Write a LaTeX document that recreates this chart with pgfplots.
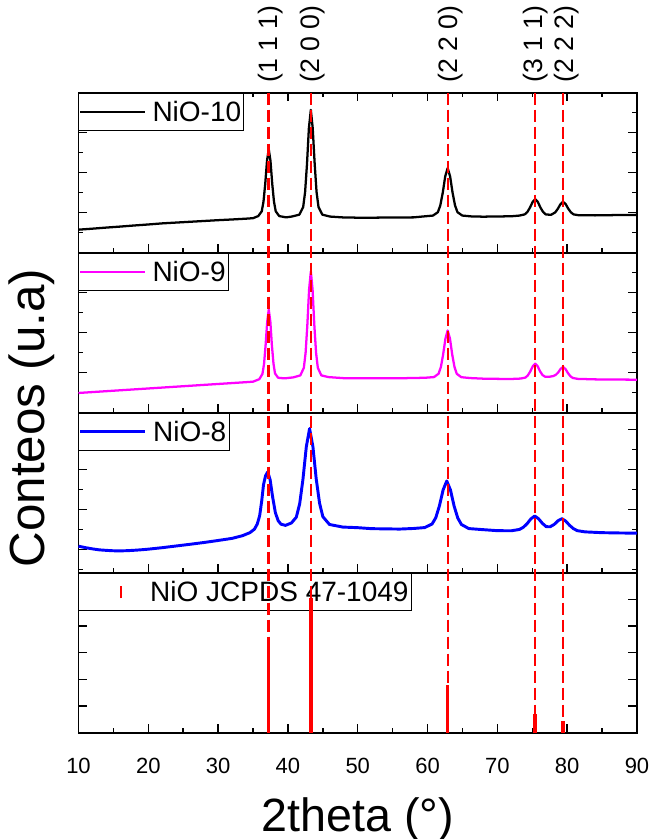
\documentclass[border=0pt]{standalone}
\usepackage{fontspec}
\setmainfont{Liberation Sans}
\usepackage{pgfplots}
\pgfplotsset{compat=1.18}

\definecolor{nimag}{RGB}{255,0,255}
\definecolor{niblue}{RGB}{0,0,255}
\definecolor{nired}{RGB}{255,0,0}

\pgfplotsset{
 panel/.style={
  scale only axis, width=418.875pt, height=120pt,
  xmin=10, xmax=90, ymin=0, ymax=160,
  xtick={10,20,...,90}, minor x tick num=1,
  yticklabels={},
  tick align=inside,
  ytick pos=both,
  axis line style={line width=1.3pt},
  every tick/.style={black, line width=1.1pt},
  major tick length=6.5pt, minor tick length=3.5pt,
  /pgf/number format/assume math mode=true,
  legend cell align=left,
  legend style={at={(0,1)}, anchor=north west, draw=black, line width=0.6pt,
    fill=white, inner xsep=0pt, inner ysep=3.8pt,
    font=\fontsize{21}{25}\selectfont,
    /tikz/every odd column/.append style={column sep=2.75pt}},
  legend image code/.code={\draw[#1] (0pt,0pt) -- (48.75pt,0pt);},
  clip=false,
 },
}

\begin{document}
\begin{tikzpicture}
% ---------------- NiO-10 ----------------
\begin{axis}[panel, name=p1, at={(0,0)}, anchor=north west,
  xticklabels={}, xtick pos=both, ytick={0,40,...,160}, minor y tick num=1]
\addplot[black, line width=1.7pt, line join=round] coordinates {
(10,23.0) (12,24.0) (14,25.1) (16,26.1) (18,27.2) (20,28.2) (22,29.3) (24,30.1)
(26,30.9) (28,31.7) (30,32.5) (32,33.2) (34,34.0) (35,34.5) (35.75,36.6) (36.25,41.4)
(36.5,51.1) (36.75,69.0) (37.0,91.8) (37.25,103.5) (37.5,91.8) (37.75,69.0) (38.0,51.1)
(38.25,41.4) (38.75,36.6) (39.75,35.3) (40.53,36.1) (41.63,38.0) (42.18,45.6) (42.46,60.7)
(42.73,88.8) (43.0,124.4) (43.28,142.8) (43.55,124.4) (43.83,88.8) (44.1,60.7) (44.38,45.6)
(44.93,38.0) (46.03,36.1) (48,35.2) (50,35.0) (52,35.0) (54,35.1) (56,35.2) (58,35.3)
(59.38,36.2) (60.78,37.1) (61.48,40.5) (61.83,47.4) (62.18,60.1) (62.53,76.3) (62.88,84.6)
(63.23,76.3) (63.58,60.1) (63.93,47.4) (64.28,40.5) (64.98,37.1) (66.38,36.2) (68,36.0)
(70,36.2) (72,36.4) (73.17,37.1) (73.92,38.3) (74.3,40.7) (74.67,45.1) (75.05,50.7)
(75.42,53.6) (75.8,50.7) (76.17,45.1) (76.55,40.7) (76.92,38.3) (77.67,37.8) (78.29,40.3)
(78.66,43.9) (79.04,48.5) (79.41,50.9) (79.79,48.5) (80.16,43.9) (80.54,40.3) (80.91,38.3)
(81.66,37.4) (84,37.3) (87,37.6) (90,37.8)};
\addlegendentry{NiO-10}
\node[rotate=90, anchor=west, inner sep=0pt, font=\fontsize{20}{22}\selectfont] at (axis cs:37.5,170) {(1 1 1)};
\node[rotate=90, anchor=west, inner sep=0pt, font=\fontsize{20}{22}\selectfont] at (axis cs:43.55,170) {(2 0 0)};
\node[rotate=90, anchor=west, inner sep=0pt, font=\fontsize{20}{22}\selectfont] at (axis cs:63.3,170) {(2 2 0)};
\node[rotate=90, anchor=west, inner sep=0pt, font=\fontsize{20}{22}\selectfont] at (axis cs:75.5,170) {(3 1 1)};
\node[rotate=90, anchor=west, inner sep=0pt, font=\fontsize{20}{22}\selectfont] at (axis cs:79.95,170) {(2 2 2)};
\end{axis}
% ---------------- NiO-9 ----------------
\begin{axis}[panel, name=p2, at={(p1.south west)}, anchor=north west,
  xticklabels={}, xtick pos=bottom, ytick={0,40,...,160}, minor y tick num=1]
\addplot[nimag, line width=1.7pt, line join=round] coordinates {
(10,19.7) (12,20.6) (14,21.5) (16,22.4) (18,23.3) (20,24.2) (22,25.1) (24,26.0) (26,26.9)
(28,27.8) (30,28.7) (32,29.6) (34,30.5) (35,31.0) (35.9,33.5) (36.35,38.8) (36.58,48.8)
(36.8,67.4) (37.03,90.9) (37.25,103.1) (37.48,91.0) (37.7,67.6) (37.93,49.1) (38.15,39.2)
(38.6,34.9) (39.5,34.3) (40.78,35.3) (41.78,37.3) (42.28,44.9) (42.53,59.9) (42.78,87.7)
(43.03,123.0) (43.28,141.2) (43.53,123.0) (43.78,87.7) (44.03,59.9) (44.28,44.9) (44.78,37.3)
(45.78,35.6) (48,34.5) (52,34.5) (56,34.4) (59.63,34.9) (60.93,35.6) (61.58,39.0) (61.91,45.7)
(62.23,58.2) (62.56,74.0) (62.88,82.2) (63.21,74.0) (63.53,58.2) (63.86,45.6) (64.18,38.9)
(64.83,35.5) (66.13,34.6) (68,34.0) (70,33.8) (72,33.7) (73.32,34.1) (74.02,35.1) (74.37,37.3)
(74.72,41.3) (75.07,46.4) (75.42,49.0) (75.77,46.4) (76.12,41.3) (76.47,37.6) (76.82,36.0)
(77.52,36.0) (78.01,36.6) (78.36,37.8) (78.71,40.2) (79.06,43.8) (79.41,45.7) (79.76,43.6)
(80.11,39.6) (80.46,36.4) (80.81,34.7) (81.51,33.8) (84,33.3) (87,33.1) (90,33.0)};
\addlegendentry{NiO-9}
\end{axis}
% ---------------- NiO-8 ----------------
\begin{axis}[panel, name=p3, at={(p2.south west)}, anchor=north west,
  xticklabels={}, xtick pos=bottom, ytick={23.33,63.33,103.33,143.33},
  minor ytick={3.33,43.33,83.33,123.33}]
\addplot[niblue, line width=2.2pt, line join=round] coordinates {
(10,26.5) (11,25.0) (12,23.8) (13,22.8) (14,22.3) (15,21.9) (16,21.8) (17,22.0) (18,22.4)
(19,22.9) (20,23.5) (22,25.0) (24,26.7) (26,28.4) (28,30.2) (30,32.2) (32,34.3) (33.5,37.0)
(34.55,40.0) (35.2,43.5) (35.6,48.5) (35.95,57.0) (36.25,72.0) (36.5,88.0) (36.8,97.0)
(37.1,100.7) (37.45,93.0) (37.8,76.0) (38.2,60.0) (38.6,52.0) (39.0,48.5) (39.65,47.3)
(40.5,49.7) (41.2,55.5) (41.68,68.8)
(42.15,93.3) (42.63,125.8) (43.1,144.1) (43.58,125.9) (44.05,93.8) (44.53,69.5) (45.0,56.0)
(45.95,48.2) (47.85,45.6) (50,45.0) (52,44.0) (54,43.8) (56,43.6) (58,44.2) (59.6,45.1)
(60.65,48.7) (61.18,55.0) (61.7,66.9) (62.23,82.8) (62.75,91.7) (63.28,82.7) (63.8,66.7)
(64.33,54.6) (64.85,48.2) (65.9,44.1) (68,43.0) (70,42.0) (72,41.9) (73.15,43.2) (73.7,45.3)
(74.25,48.9) (74.8,53.8) (75.35,56.7) (75.9,53.9) (76.45,49.3) (77.0,46.0) (77.55,45.9)
(78.15,48.3) (78.7,52.0) (79.25,54.0) (79.8,51.5) (80.35,47.3) (80.9,44.0) (81.45,42.0)
(82.55,40.8) (85,40.0) (87.5,39.7) (90,39.5)};
\addlegendentry{NiO-8}
\end{axis}
% ---------------- JCPDS ----------------
\begin{axis}[panel, name=p4, at={(p3.south west)}, anchor=north west,
  xtick pos=bottom, xticklabels={10,20,30,40,50,60,70,80,90},
  xticklabel style={font=\fontsize{16.5}{18}\selectfont, yshift=-15.5pt},
  ytick={0,26.667,53.333,80,106.667,133.333,160}, minor y tick num=1,
  xlabel={2theta (°)},
  xlabel style={font=\fontsize{35}{40}\selectfont, at={(axis description cs:0.5,-0.54)}, anchor=center},
  ylabel={Conteos (u.a)},
  ylabel style={font=\fontsize{37}{40}\selectfont, at={(axis description cs:-0.0833,1.967)}, anchor=center}]
\addplot[ycomb, nired, line width=2.6pt,
  legend image code/.code={%
    \pgfpathmoveto{\pgfpoint{0pt}{0pt}}\pgfpathlineto{\pgfpoint{48.75pt}{0pt}}\pgfusepath{use as bounding box}%
    \pgfsetlinewidth{2pt}\pgfsetcolor{nired}%
    \pgfpathmoveto{\pgfpoint{31.5pt}{-4.8pt}}\pgfpathlineto{\pgfpoint{31.5pt}{4.8pt}}\pgfusepath{stroke}}]
  coordinates {(37.25,84) (43.28,135) (62.88,48) (75.42,19) (79.41,12)};
\addlegendentry{NiO JCPDS 47-1049}
\end{axis}
% ---------------- overlay: reference lines ----------------
\begin{axis}[scale only axis, width=418.875pt, height=120pt, at={(p4.south west)}, anchor=south west,
  xmin=10, xmax=90, ymin=0, ymax=160, hide axis, clip=false]
\addplot[color=nired, line width=1.9pt, dash pattern=on 9pt off 3.75pt] coordinates {(37.25,640) (37.25,84)};
\addplot[color=nired, line width=1.5pt, dash pattern=on 9pt off 3.75pt] coordinates {(43.28,640) (43.28,135)};
\addplot[color=nired, line width=1.35pt, dash pattern=on 9pt off 3.75pt] coordinates {(62.88,640) (62.88,48)};
\addplot[color=nired, line width=1.9pt, dash pattern=on 9pt off 3.75pt] coordinates {(75.42,640) (75.42,19)};
\addplot[color=nired, line width=1.35pt, dash pattern=on 9pt off 3.75pt] coordinates {(79.41,640) (79.41,12)};
\addplot[ycomb, color=nired, line width=2.6pt] coordinates {(37.25,84) (43.28,135) (62.88,48) (75.42,19) (79.41,12)};
\end{axis}
\pgfresetboundingbox
\path[use as bounding box] ([xshift=-58.875pt,yshift=69.5pt]p1.north west) rectangle ([xshift=11.25pt,yshift=-79.75pt]p4.south east);
\end{tikzpicture}
\end{document}
